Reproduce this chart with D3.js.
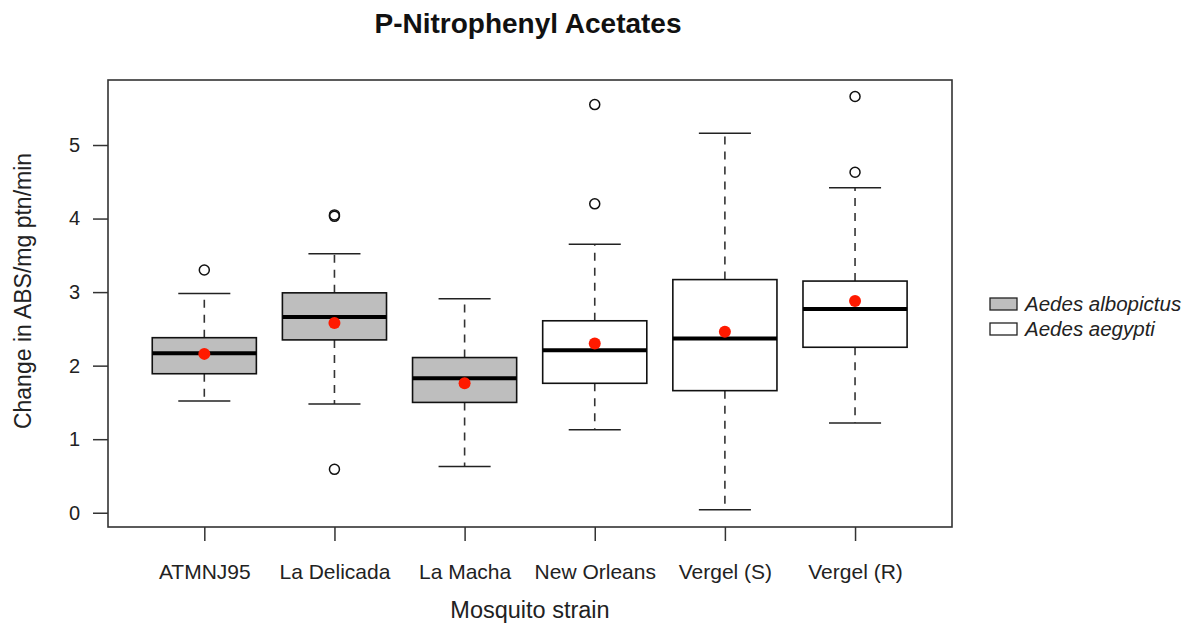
<!DOCTYPE html>
<html>
<head>
<meta charset="utf-8">
<script src="https://cdn.jsdelivr.net/npm/d3@7"></script>
<style>
  html, body { margin: 0; padding: 0; background: #ffffff; }
  svg { display: block; font-family: "Liberation Sans", Arial, Helvetica, sans-serif; }
</style>
</head>
<body>
<svg id="chart" width="1189" height="628"></svg>
<script>
// ---- data ----
const categories = ["ATMNJ95", "La Delicada", "La Macha", "New Orleans", "Vergel (S)", "Vergel (R)"];
const species = ["Aedes albopictus", "Aedes albopictus", "Aedes albopictus", "Aedes aegypti", "Aedes aegypti", "Aedes aegypti"];
const lowerWhisker = [1.52, 1.48, 0.63, 1.13, 0.04, 1.22];
const q1 = [1.89, 2.35, 1.50, 1.76, 1.66, 2.25];
const medians = [2.17, 2.66, 1.83, 2.21, 2.37, 2.77];
const q3 = [2.38, 2.99, 2.11, 2.61, 3.17, 3.15];
const upperWhisker = [2.98, 3.52, 2.91, 3.65, 5.16, 4.42];
const means = [2.16, 2.58, 1.76, 2.30, 2.46, 2.88];
const outliers = [[3.30], [4.03, 4.05, 0.59], [], [5.55, 4.20], [], [5.66, 4.63]];
const yTicks = [0, 1, 2, 3, 4, 5];
const legendLabels = ["Aedes albopictus", "Aedes aegypti"];

const title = "P-Nitrophenyl Acetates";
const xTitle = "Mosquito strain";
const yTitle = "Change in ABS/mg ptn/min";

// ---- layout ----
const plot = { left: 108, right: 952, top: 80, bottom: 527 };
const fillFor = { "Aedes albopictus": "#bebebe", "Aedes aegypti": "#ffffff" };

const svg = d3.select("#chart");

const x = d3.scaleLinear().domain([0.26, 6.745]).range([plot.left, plot.right]);
const y = d3.scaleLinear().domain([-0.194, 5.884]).range([plot.bottom, plot.top]);

const boxW = x(1.4) - x(1.0);      // half box width (0.8 units total)
const capW = x(1.2) - x(1.0);      // half staple width

const data = categories.map((c, i) => ({
  cat: c, i: i + 1, sp: species[i],
  lo: lowerWhisker[i], q1: q1[i], med: medians[i], q3: q3[i], hi: upperWhisker[i],
  mean: means[i], out: outliers[i]
}));

// ---- boxes ----
const g = svg.append("g");
const bx = g.selectAll("g.box").data(data).join("g").attr("class", "box");

// whiskers (dashed)
bx.append("line")
  .attr("x1", d => x(d.i)).attr("x2", d => x(d.i))
  .attr("y1", d => y(d.q3)).attr("y2", d => y(d.hi))
  .attr("stroke", "#333").attr("stroke-width", 1.6).attr("stroke-dasharray", "8,7");
bx.append("line")
  .attr("x1", d => x(d.i)).attr("x2", d => x(d.i))
  .attr("y1", d => y(d.q1)).attr("y2", d => y(d.lo))
  .attr("stroke", "#333").attr("stroke-width", 1.6).attr("stroke-dasharray", "8,7");
// staples
bx.append("line")
  .attr("x1", d => x(d.i) - capW).attr("x2", d => x(d.i) + capW)
  .attr("y1", d => y(d.hi)).attr("y2", d => y(d.hi))
  .attr("stroke", "#222").attr("stroke-width", 1.5);
bx.append("line")
  .attr("x1", d => x(d.i) - capW).attr("x2", d => x(d.i) + capW)
  .attr("y1", d => y(d.lo)).attr("y2", d => y(d.lo))
  .attr("stroke", "#222").attr("stroke-width", 1.5);
// box
bx.append("rect")
  .attr("x", d => x(d.i) - boxW).attr("width", 2 * boxW)
  .attr("y", d => y(d.q3)).attr("height", d => y(d.q1) - y(d.q3))
  .attr("fill", d => fillFor[d.sp]).attr("stroke", "#111").attr("stroke-width", 1.6);
// median
bx.append("line")
  .attr("x1", d => x(d.i) - boxW).attr("x2", d => x(d.i) + boxW)
  .attr("y1", d => y(d.med)).attr("y2", d => y(d.med))
  .attr("stroke", "#000").attr("stroke-width", 4);
// outliers
bx.selectAll("circle.out").data(d => d.out.map(v => ({ i: d.i, v }))).join("circle")
  .attr("class", "out")
  .attr("cx", d => x(d.i)).attr("cy", d => y(d.v)).attr("r", 5)
  .attr("fill", "none").attr("stroke", "#111").attr("stroke-width", 1.5);
// means
bx.append("circle")
  .attr("cx", d => x(d.i)).attr("cy", d => y(d.mean)).attr("r", 6)
  .attr("fill", "#ff1a00");

// ---- frame ----
svg.append("rect")
  .attr("x", plot.left).attr("y", plot.top)
  .attr("width", plot.right - plot.left).attr("height", plot.bottom - plot.top)
  .attr("fill", "none").attr("stroke", "#333").attr("stroke-width", 1.6);

// ---- axes ----
const yAxis = svg.append("g").attr("transform", `translate(${plot.left},0)`)
  .call(d3.axisLeft(y).tickValues(yTicks).tickSize(15).tickPadding(13).tickFormat(d3.format("d")));
yAxis.select(".domain").remove();
yAxis.selectAll(".tick line").attr("stroke", "#333").attr("stroke-width", 1.5);
yAxis.selectAll(".tick text").attr("font-size", 20).attr("fill", "#222")
  .attr("font-family", "Liberation Sans, Arial, sans-serif");

const xAxis = svg.append("g").attr("transform", `translate(0,${plot.bottom})`)
  .call(d3.axisBottom(x).tickValues(d3.range(1, categories.length + 1)).tickSize(14)
    .tickFormat(v => categories[v - 1]));
xAxis.select(".domain").remove();
xAxis.selectAll(".tick line").attr("stroke", "#333").attr("stroke-width", 1.5);
xAxis.selectAll(".tick text").attr("font-size", 21).attr("fill", "#222")
  .attr("font-family", "Liberation Sans, Arial, sans-serif")
  .attr("y", 52).attr("dy", 0);

// ---- titles ----
svg.append("text").attr("x", 528).attr("y", 33).attr("text-anchor", "middle")
  .attr("font-size", 28).attr("font-weight", "bold").attr("fill", "#111").text(title);
svg.append("text").attr("x", 530).attr("y", 618).attr("text-anchor", "middle")
  .attr("font-size", 23.5).attr("fill", "#222").text(xTitle);
svg.append("text").attr("transform", "translate(31,291) rotate(-90)").attr("text-anchor", "middle")
  .attr("font-size", 23).attr("fill", "#222").text(yTitle);

// ---- legend ----
const lg = svg.append("g").selectAll("g").data(legendLabels).join("g")
  .attr("transform", (d, i) => `translate(990,${298 + i * 25})`);
lg.append("rect").attr("x", 0).attr("y", 0).attr("width", 27).attr("height", 12)
  .attr("fill", d => fillFor[d]).attr("stroke", "#222").attr("stroke-width", 1.3);
lg.append("text").attr("x", 35).attr("y", 13).attr("font-size", 20.5).attr("font-style", "italic")
  .attr("fill", "#222").text(d => d);
</script>
</body>
</html>
